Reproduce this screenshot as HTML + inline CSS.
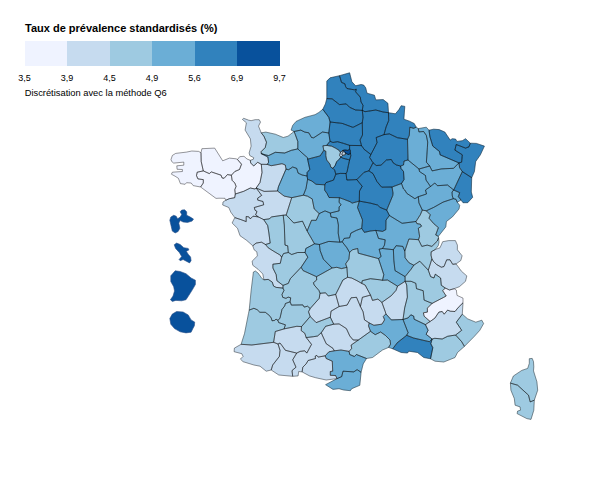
<!DOCTYPE html>
<html><head><meta charset="utf-8">
<style>
html,body{margin:0;padding:0;background:#fff;}
body{width:600px;height:484px;position:relative;overflow:hidden;font-family:"Liberation Sans",sans-serif;color:#000;}
#title{position:absolute;left:25px;top:21.4px;font-size:11px;font-weight:bold;white-space:nowrap;line-height:14px;}
#bar{position:absolute;left:24.5px;top:41px;height:25px;width:255px;display:flex;}
#bar div{flex:1;}
.lb{position:absolute;top:73.1px;font-size:9px;line-height:11px;width:30px;text-align:center;white-space:nowrap;}
#note{position:absolute;left:24.7px;top:86.7px;font-size:9.33px;line-height:12px;white-space:nowrap;}
svg{position:absolute;left:0;top:0;}
svg path{stroke-linejoin:round;}
svg path.bd{fill:none;stroke:rgba(0,0,0,0.47);stroke-width:0.85;}
</style></head><body>
<div id="title">Taux de prévalence standardisés (%)</div>
<div id="bar"><div style="background:#eff3ff"></div><div style="background:#c6dbef"></div><div style="background:#9ecae1"></div><div style="background:#6baed6"></div><div style="background:#3182bd"></div><div style="background:#08519c"></div></div>
<div class="lb" style="left:9.5px">3,5</div>
<div class="lb" style="left:52px">3,9</div>
<div class="lb" style="left:94.5px">4,5</div>
<div class="lb" style="left:137px">4,9</div>
<div class="lb" style="left:179.5px">5,6</div>
<div class="lb" style="left:222px">6,9</div>
<div class="lb" style="left:264.5px">9,7</div>
<div id="note">Discrétisation avec la méthode Q6</div>
<svg width="600" height="484" viewBox="0 0 600 484">
<path d="M171.0 159.5 L172.4 155.4 L175.7 153.4 L186.5 152.1 L191.8 151.0 L198.6 151.4 L201.0 152.8 L201.2 161.5 L203.3 170.9 L197.2 172.2 L196.5 175.6 L197.9 178.9 L203.3 179.6 L203.3 183.0 L200.6 187.0 L193.2 185.6 L191.2 183.0 L186.5 182.7 L185.1 184.3 L180.4 183.6 L178.4 178.3 L175.1 176.2 L171.4 174.2 L172.4 172.2 L182.4 171.5 L182.4 169.5 L177.1 169.3 L176.8 165.8 L183.8 165.2 L183.8 162.1 L173.7 163.1 L171.7 161.5Z" fill="#eff3ff" stroke="#eff3ff" stroke-width="0.3"/>
<path d="M201.0 152.8 L201.9 148.7 L214.7 148.1 L222.7 160.8 L229.4 158.1 L236.1 158.8 L237.5 159.5 L241.5 164.2 L239.5 169.5 L234.8 171.5 L231.4 175.2 L227.4 174.6 L224.1 178.3 L222.0 177.9 L221.1 175.2 L211.3 171.9 L209.3 173.6 L203.3 170.9 L201.2 161.5Z" fill="#eff3ff" stroke="#eff3ff" stroke-width="0.3"/>
<path d="M203.3 170.9 L209.3 173.6 L211.3 171.9 L221.1 175.2 L222.0 177.9 L224.1 178.3 L227.4 174.6 L231.4 175.2 L232.1 180.3 L234.8 183.0 L236.1 186.3 L234.8 189.7 L235.3 194.0 L234.7 197.7 L229.3 198.7 L225.7 200.3 L225.0 198.3 L219.0 198.2 L216.0 198.4 L200.6 187.0 L203.3 183.0 L203.3 179.6 L197.9 178.9 L196.5 175.6 L197.2 172.2Z" fill="#eff3ff" stroke="#eff3ff" stroke-width="0.3"/>
<path d="M237.5 159.5 L239.7 156.7 L244.0 156.3 L247.0 159.0 L250.3 160.3 L250.7 163.0 L253.7 166.0 L257.7 162.3 L261.3 164.3 L262.0 172.5 L260.0 182.5 L256.2 188.0 L255.0 189.0 L250.3 188.0 L243.7 191.3 L235.3 194.0 L234.8 189.7 L236.1 186.3 L234.8 183.0 L232.1 180.3 L231.4 175.2 L234.8 171.5 L239.5 169.5 L241.5 164.2Z" fill="#eff3ff" stroke="#eff3ff" stroke-width="0.3"/>
<path d="M242.4 119.4 L243.7 118.3 L248.4 120.1 L251.1 120.7 L255.1 119.7 L259.2 119.7 L260.5 122.1 L258.5 126.1 L261.2 132.8 L263.9 136.2 L266.5 142.2 L265.2 147.6 L261.2 151.6 L261.2 153.6 L267.9 157.0 L268.6 162.3 L267.2 164.4 L261.3 164.3 L257.7 162.3 L253.7 166.0 L250.7 163.0 L250.3 160.3 L253.3 159.3 L253.7 157.7 L249.8 155.6 L249.1 153.0 L251.1 146.2 L250.4 138.9 L245.1 130.1 L246.4 122.8Z" fill="#c6dbef" stroke="#c6dbef" stroke-width="0.3"/>
<path d="M261.2 132.8 L265.9 132.1 L275.3 134.2 L283.3 137.5 L288.0 136.2 L294.1 131.5 L295.4 134.8 L297.8 141.5 L297.8 148.9 L291.4 150.3 L284.7 153.0 L275.3 152.3 L268.6 155.6 L265.9 155.0 L261.2 153.6 L261.2 151.6 L265.2 147.6 L266.5 142.2 L263.9 136.2Z" fill="#9ecae1" stroke="#9ecae1" stroke-width="0.3"/>
<path d="M261.2 153.6 L265.9 155.0 L268.6 155.6 L275.3 152.3 L284.7 153.0 L291.4 150.3 L297.8 148.9 L302.1 153.0 L307.5 157.7 L307.6 159.2 L309.8 169.3 L307.1 172.6 L307.1 176.0 L302.1 175.0 L298.1 173.1 L296.7 168.4 L292.7 167.0 L288.7 169.7 L286.0 169.1 L285.3 165.0 L282.0 163.7 L275.3 165.0 L271.2 165.7 L267.2 164.4 L268.6 162.3 L267.9 157.0Z" fill="#6baed6" stroke="#6baed6" stroke-width="0.3"/>
<path d="M261.3 164.3 L267.2 164.4 L271.2 165.7 L275.3 165.0 L282.0 163.7 L285.3 165.0 L286.0 169.1 L278.4 186.8 L277.5 191.0 L264.1 191.4 L256.2 188.0 L260.0 182.5 L262.0 172.5Z" fill="#c6dbef" stroke="#c6dbef" stroke-width="0.3"/>
<path d="M286.0 169.1 L288.7 169.7 L292.7 167.0 L296.7 168.4 L298.1 173.1 L302.1 175.0 L307.1 176.0 L307.6 179.3 L306.0 188.5 L303.4 195.2 L291.7 197.7 L284.2 196.1 L277.5 191.0 L278.4 186.8Z" fill="#6baed6" stroke="#6baed6" stroke-width="0.3"/>
<path d="M307.6 159.2 L320.2 155.9 L323.8 150.4 L325.8 151.2 L325.8 155.8 L326.7 160.0 L330.0 164.2 L330.8 167.1 L332.9 168.3 L334.6 170.0 L335.8 174.2 L333.5 180.1 L326.0 182.6 L324.8 184.8 L316.0 184.3 L311.8 181.0 L307.6 179.3 L307.1 176.0 L307.1 172.6 L309.8 169.3Z" fill="#3182bd" stroke="#3182bd" stroke-width="0.3"/>
<path d="M294.1 131.5 L300.8 130.1 L304.8 132.1 L308.8 132.8 L311.5 137.5 L313.7 137.8 L322.5 132.0 L328.8 133.0 L330.0 141.2 L326.7 145.4 L322.9 145.8 L323.8 150.4 L320.2 155.9 L307.6 159.2 L307.5 157.7 L302.1 153.0 L297.8 148.9 L297.8 141.5 L295.4 134.8Z" fill="#6baed6" stroke="#6baed6" stroke-width="0.3"/>
<path d="M322.8 109.3 L328.8 117.3 L330.1 122.0 L328.8 133.0 L322.5 132.0 L313.7 137.8 L311.5 137.5 L308.8 132.8 L304.8 132.1 L300.8 130.1 L294.1 131.5 L291.1 130.1 L292.7 125.4 L296.1 121.4 L304.8 117.4 L315.0 114.7 L318.8 112.5Z" fill="#6baed6" stroke="#6baed6" stroke-width="0.3"/>
<path d="M326.8 98.6 L326.8 81.1 L330.1 77.8 L339.5 75.7 L341.5 82.4 L344.9 83.8 L345.6 86.5 L346.9 88.5 L354.3 89.8 L356.3 89.2 L355.6 91.8 L360.3 97.2 L361.0 101.9 L363.0 105.3 L362.3 110.4 L355.6 110.0 L349.6 107.3 L346.2 103.9 L339.5 104.6 L332.1 98.8Z" fill="#3182bd" stroke="#3182bd" stroke-width="0.3"/>
<path d="M339.5 75.7 L349.6 72.8 L351.9 81.8 L355.6 85.8 L361.0 84.5 L363.7 85.1 L365.7 87.8 L367.0 93.2 L374.4 95.2 L375.8 99.9 L383.2 99.6 L387.9 103.3 L388.5 112.7 L383.2 112.0 L375.8 110.0 L365.0 111.7 L362.3 110.4 L363.0 105.3 L361.0 101.9 L360.3 97.2 L355.6 91.8 L356.3 89.2 L354.3 89.8 L346.9 88.5 L345.6 86.5 L344.9 83.8 L341.5 82.4Z" fill="#3182bd" stroke="#3182bd" stroke-width="0.3"/>
<path d="M326.8 98.6 L332.1 98.8 L339.5 104.6 L346.2 103.9 L349.6 107.3 L355.6 110.0 L362.3 110.4 L363.0 117.3 L362.3 122.7 L353.0 127.4 L342.2 123.4 L330.1 122.0 L328.8 117.3 L322.8 109.3 L325.4 103.9Z" fill="#3182bd" stroke="#3182bd" stroke-width="0.3"/>
<path d="M330.1 122.0 L342.2 123.4 L353.0 127.4 L362.3 122.7 L362.5 135.0 L360.0 140.0 L361.5 145.6 L349.6 145.4 L343.3 143.3 L337.5 141.7 L332.9 142.5 L330.0 141.2 L328.8 133.0Z" fill="#3182bd" stroke="#3182bd" stroke-width="0.3"/>
<path d="M362.3 110.4 L365.0 111.7 L375.8 110.0 L383.2 112.0 L388.5 112.7 L388.7 120.5 L386.0 127.2 L384.0 134.6 L376.2 137.5 L377.0 142.7 L374.3 148.0 L370.9 154.5 L364.2 149.4 L361.5 145.6 L360.0 140.0 L362.5 135.0 L362.3 122.7 L363.0 117.3Z" fill="#3182bd" stroke="#3182bd" stroke-width="0.3"/>
<path d="M388.5 112.7 L395.4 113.8 L398.8 109.8 L401.2 105.7 L404.8 106.4 L403.9 119.2 L409.5 121.2 L414.2 123.5 L416.2 127.2 L413.6 128.3 L409.8 127.2 L409.3 135.3 L407.5 139.3 L397.4 137.7 L389.4 133.9 L384.0 134.6 L386.0 127.2 L388.7 120.5Z" fill="#3182bd" stroke="#3182bd" stroke-width="0.3"/>
<path d="M384.0 134.6 L389.4 133.9 L397.4 137.7 L407.5 139.3 L408.0 160.0 L404.0 161.0 L403.5 165.0 L400.5 166.0 L396.5 165.0 L393.1 162.8 L391.3 159.5 L386.4 160.0 L381.0 165.2 L376.3 165.5 L373.0 162.8 L369.6 157.4 L370.9 154.5 L374.3 148.0 L377.0 142.7 L376.2 137.5Z" fill="#3182bd" stroke="#3182bd" stroke-width="0.3"/>
<path d="M330.0 141.2 L332.9 142.5 L337.5 141.7 L343.3 143.3 L349.6 145.4 L349.6 149.2 L347.9 150.4 L345.0 150.0 L342.9 150.4 L340.4 152.5 L339.2 150.4 L335.8 148.3 L331.7 146.2 L326.7 145.4Z" fill="#3182bd" stroke="#3182bd" stroke-width="0.3"/>
<path d="M322.9 145.8 L326.7 145.4 L331.7 146.2 L335.8 148.3 L339.2 150.4 L340.4 152.5 L339.6 155.4 L340.8 157.1 L339.2 159.2 L336.7 161.7 L335.0 165.8 L332.9 168.3 L330.8 167.1 L330.0 164.2 L326.7 160.0 L325.8 155.8 L325.8 151.2 L323.8 150.4Z" fill="#9ecae1" stroke="#9ecae1" stroke-width="0.3"/>
<path d="M339.2 159.2 L340.8 157.1 L343.3 158.3 L348.3 159.6 L349.6 160.0 L348.3 165.8 L347.1 171.7 L346.1 173.5 L340.2 173.4 L335.8 174.2 L334.6 170.0 L332.9 168.3 L335.0 165.8 L336.7 161.7Z" fill="#3182bd" stroke="#3182bd" stroke-width="0.3"/>
<path d="M342.5 155.4 L342.5 155.4 L345.4 154.6 L345.4 152.9 L347.5 154.2 L349.2 154.6 L350.4 152.9 L350.8 155.8 L349.6 160.0 L348.3 159.6 L343.3 158.3 L340.8 157.1Z" fill="#3182bd" stroke="#3182bd" stroke-width="0.3"/>
<path d="M340.4 152.5 L342.9 150.4 L342.9 150.4 L342.9 152.9 L341.7 153.8 L342.5 155.4 L340.8 157.1 L339.6 155.4Z" fill="#c6dbef" stroke="#c6dbef" stroke-width="0.3"/>
<path d="M342.9 152.9 L342.9 150.4 L345.4 152.9 L345.4 154.6 L342.5 155.4 L342.5 155.4 L341.7 153.8Z" fill="#c6dbef" stroke="#c6dbef" stroke-width="0.3"/>
<path d="M342.9 150.4 L345.0 150.0 L347.9 150.4 L349.6 149.2 L350.4 150.4 L350.4 152.9 L349.2 154.6 L347.5 154.2 L345.4 152.9 L342.9 150.4Z" fill="#08519c" stroke="#08519c" stroke-width="0.3"/>
<path d="M349.6 145.4 L361.5 145.6 L364.2 149.4 L370.9 154.5 L369.6 157.4 L373.0 162.8 L368.9 170.9 L364.2 172.2 L356.8 179.6 L346.8 180.0 L346.1 173.5 L347.1 171.7 L348.3 165.8 L349.6 160.0 L350.8 155.8 L350.4 152.9 L350.4 150.4 L349.6 149.2Z" fill="#3182bd" stroke="#3182bd" stroke-width="0.3"/>
<path d="M324.8 184.8 L326.0 182.6 L333.5 180.1 L335.8 174.2 L340.2 173.4 L346.1 173.5 L346.8 180.0 L356.8 179.6 L362.2 186.3 L359.5 191.0 L359.3 201.1 L352.1 203.1 L350.1 201.7 L343.4 199.1 L339.4 197.7 L329.0 197.5 L327.0 193.5 L324.6 190.1Z" fill="#3182bd" stroke="#3182bd" stroke-width="0.3"/>
<path d="M307.6 179.3 L311.8 181.0 L316.0 184.3 L324.8 184.8 L324.6 190.1 L327.0 193.5 L329.0 197.5 L339.4 197.7 L339.1 202.2 L341.1 204.9 L339.1 206.9 L339.1 210.9 L330.3 213.0 L325.0 210.9 L319.2 213.6 L314.2 208.9 L312.2 198.9 L307.5 196.2 L303.4 195.2 L306.0 188.5Z" fill="#6baed6" stroke="#6baed6" stroke-width="0.3"/>
<path d="M413.6 128.3 L416.2 127.2 L418.3 128.6 L418.9 131.9 L423.6 131.5 L426.3 135.3 L427.7 142.0 L427.4 147.4 L426.4 162.2 L429.7 166.0 L419.0 169.0 L408.0 160.0 L407.5 139.3 L409.3 135.3 L409.8 127.2Z" fill="#6baed6" stroke="#6baed6" stroke-width="0.3"/>
<path d="M418.3 128.6 L426.3 127.2 L429.0 130.2 L429.9 136.6 L432.8 146.1 L439.5 151.5 L440.1 154.8 L458.9 162.9 L453.6 168.3 L441.5 168.9 L432.1 170.9 L429.7 166.0 L426.4 162.2 L427.4 147.4 L427.7 142.0 L426.3 135.3 L423.6 131.5 L418.9 131.9Z" fill="#6baed6" stroke="#6baed6" stroke-width="0.3"/>
<path d="M429.0 130.2 L433.7 129.2 L439.1 129.6 L444.8 132.0 L450.2 140.1 L452.2 138.7 L455.6 139.1 L456.9 141.4 L462.3 140.7 L465.6 138.7 L470.3 143.2 L469.0 146.8 L465.6 148.1 L456.2 144.5 L454.9 150.1 L462.3 154.8 L461.6 162.2 L458.9 162.9 L440.1 154.8 L439.5 151.5 L432.8 146.1 L429.9 136.6Z" fill="#3182bd" stroke="#3182bd" stroke-width="0.3"/>
<path d="M470.3 143.2 L476.4 143.4 L484.4 146.1 L480.4 154.8 L475.7 161.5 L474.4 171.6 L471.7 177.7 L462.3 171.6 L459.6 167.6 L458.9 162.9 L461.6 162.2 L462.3 154.8 L454.9 150.1 L456.2 144.5 L465.6 148.1 L469.0 146.8Z" fill="#3182bd" stroke="#3182bd" stroke-width="0.3"/>
<path d="M462.3 171.6 L471.7 177.7 L471.3 192.0 L472.7 197.3 L467.7 202.7 L463.0 202.7 L461.0 200.0 L458.3 196.7 L459.7 192.7 L453.7 190.0Z" fill="#3182bd" stroke="#3182bd" stroke-width="0.3"/>
<path d="M419.0 169.0 L429.7 166.0 L432.1 170.9 L441.5 168.9 L453.6 168.3 L458.9 162.9 L459.6 167.6 L462.3 171.6 L453.7 190.0 L447.5 185.0 L437.4 185.7 L434.8 183.0 L430.5 186.5 L426.0 180.0 L425.5 175.5 L419.5 171.5Z" fill="#6baed6" stroke="#6baed6" stroke-width="0.3"/>
<path d="M453.7 190.0 L452.0 192.0 L452.3 196.0 L453.3 198.7 L456.0 199.3 L457.3 202.3 L461.0 200.0 L458.3 196.7 L459.7 192.7Z" fill="#6baed6" stroke="#6baed6" stroke-width="0.3"/>
<path d="M408.0 160.0 L404.0 161.0 L403.5 165.0 L400.5 166.0 L401.0 168.5 L403.5 171.5 L404.0 179.5 L401.5 183.5 L403.5 189.0 L404.8 190.0 L406.8 193.4 L414.9 198.7 L418.3 196.7 L426.5 194.0 L425.5 190.0 L430.5 186.5 L426.0 180.0 L425.5 175.5 L419.5 171.5 L419.0 169.0Z" fill="#6baed6" stroke="#6baed6" stroke-width="0.3"/>
<path d="M430.5 186.5 L434.8 183.0 L437.4 185.7 L447.5 185.0 L453.7 190.0 L452.0 192.0 L452.3 196.0 L453.3 198.7 L443.1 202.1 L433.7 207.4 L426.3 210.8 L422.3 210.1 L418.9 202.8 L418.3 196.7 L426.5 194.0 L425.5 190.0Z" fill="#6baed6" stroke="#6baed6" stroke-width="0.3"/>
<path d="M426.3 210.8 L433.7 207.4 L443.1 202.1 L453.3 198.7 L456.0 199.3 L457.3 202.3 L459.7 205.3 L459.0 209.0 L452.5 216.8 L446.4 221.5 L445.8 226.9 L438.4 236.3 L435.7 235.0 L438.4 227.6 L433.7 223.6 L429.0 218.2 L430.3 214.8Z" fill="#6baed6" stroke="#6baed6" stroke-width="0.3"/>
<path d="M368.9 170.9 L373.0 162.8 L376.3 165.5 L381.0 165.2 L386.4 160.0 L391.3 159.5 L393.1 162.8 L396.5 165.0 L400.5 166.0 L401.0 168.5 L403.5 171.5 L404.0 179.5 L401.5 183.5 L392.0 187.0 L381.7 187.2 L377.0 181.6 L373.0 173.6Z" fill="#3182bd" stroke="#3182bd" stroke-width="0.3"/>
<path d="M356.8 179.6 L364.2 172.2 L368.9 170.9 L373.0 173.6 L377.0 181.6 L381.7 187.2 L392.0 187.0 L393.0 193.0 L392.8 195.4 L386.7 210.1 L380.0 207.4 L377.5 205.0 L370.3 203.1 L359.3 201.1 L359.5 191.0 L362.2 186.3Z" fill="#3182bd" stroke="#3182bd" stroke-width="0.3"/>
<path d="M392.0 187.0 L401.5 183.5 L403.5 189.0 L404.8 190.0 L406.8 193.4 L414.9 198.7 L418.3 196.7 L418.9 202.8 L422.3 210.1 L420.3 214.8 L416.0 221.5 L402.1 223.3 L389.4 215.5 L386.7 210.1 L392.8 195.4 L393.0 193.0Z" fill="#6baed6" stroke="#6baed6" stroke-width="0.3"/>
<path d="M359.3 201.1 L370.3 203.1 L377.5 205.0 L380.0 207.4 L386.7 210.1 L389.4 215.5 L386.0 220.2 L385.8 229.7 L382.5 231.4 L375.8 230.4 L370.4 231.0 L364.4 232.4 L361.7 228.4 L362.5 220.0 L357.5 207.5Z" fill="#3182bd" stroke="#3182bd" stroke-width="0.3"/>
<path d="M339.4 197.7 L343.4 199.1 L350.1 201.7 L352.1 203.1 L359.3 201.1 L357.5 207.5 L362.5 220.0 L361.7 228.4 L356.3 230.4 L350.9 233.1 L349.6 237.8 L344.2 238.4 L342.2 241.8 L339.8 242.2 L338.2 233.1 L338.4 225.0 L337.0 218.0 L331.0 217.0 L330.3 213.0 L339.1 210.9 L339.1 206.9 L341.1 204.9 L339.1 202.2Z" fill="#6baed6" stroke="#6baed6" stroke-width="0.3"/>
<path d="M319.2 213.6 L325.0 210.9 L330.3 213.0 L331.0 217.0 L337.0 218.0 L338.4 225.0 L338.2 233.1 L339.8 242.2 L328.8 241.4 L319.4 244.5 L314.5 243.8 L307.1 231.0 L311.5 220.3 L316.2 220.3Z" fill="#6baed6" stroke="#6baed6" stroke-width="0.3"/>
<path d="M291.7 197.7 L303.4 195.2 L307.5 196.2 L312.2 198.9 L314.2 208.9 L319.2 213.6 L316.2 220.3 L311.5 220.3 L307.1 231.0 L302.5 221.2 L293.8 223.0 L286.2 215.0Z" fill="#9ecae1" stroke="#9ecae1" stroke-width="0.3"/>
<path d="M256.2 188.0 L264.1 191.4 L277.5 191.0 L284.2 196.1 L291.7 197.7 L286.2 215.0 L283.2 215.2 L271.7 216.9 L269.1 218.9 L263.7 219.6 L258.3 216.9 L255.6 214.9 L257.0 211.5 L255.0 210.2 L254.3 207.5 L263.7 204.8 L263.0 201.5 L257.7 200.1 L257.7 198.1 L261.7 195.4Z" fill="#c6dbef" stroke="#c6dbef" stroke-width="0.3"/>
<path d="M225.7 200.3 L229.3 198.7 L234.7 197.7 L235.3 194.0 L243.7 191.3 L250.3 188.0 L255.0 189.0 L256.2 188.0 L261.7 195.4 L257.7 198.1 L257.7 200.1 L263.0 201.5 L263.7 204.8 L254.3 207.5 L255.0 210.2 L257.0 211.5 L255.6 214.9 L258.3 216.9 L253.0 216.2 L250.3 218.9 L248.9 216.9 L246.2 216.5 L246.2 221.6 L240.9 219.6 L234.8 217.6 L230.8 212.2 L228.8 207.5 L222.7 205.0 L223.0 202.0Z" fill="#c6dbef" stroke="#c6dbef" stroke-width="0.3"/>
<path d="M234.8 217.6 L240.9 219.6 L246.2 221.6 L246.2 216.5 L248.9 216.9 L250.3 218.9 L253.0 216.2 L258.3 216.9 L263.7 219.6 L267.7 225.6 L268.9 233.1 L270.2 243.1 L265.5 244.5 L261.5 242.2 L256.1 243.1 L252.8 245.8 L246.7 240.4 L240.0 235.7 L237.5 228.3 L232.1 223.0Z" fill="#c6dbef" stroke="#c6dbef" stroke-width="0.3"/>
<path d="M263.7 219.6 L269.1 218.9 L271.7 216.9 L283.2 215.2 L284.3 225.0 L285.0 245.1 L287.7 245.8 L288.3 252.5 L283.6 253.5 L281.6 257.2 L280.3 255.2 L273.6 251.2 L268.2 247.8 L265.5 244.5 L270.2 243.1 L268.9 233.1 L267.7 225.6Z" fill="#9ecae1" stroke="#9ecae1" stroke-width="0.3"/>
<path d="M283.2 215.2 L286.2 215.0 L293.8 223.0 L302.5 221.2 L307.1 231.0 L314.5 243.8 L305.8 248.5 L305.1 252.5 L297.7 252.5 L291.7 254.5 L288.3 252.5 L287.7 245.8 L285.0 245.1 L284.3 225.0Z" fill="#9ecae1" stroke="#9ecae1" stroke-width="0.3"/>
<path d="M252.8 245.8 L256.1 243.1 L261.5 242.2 L265.5 244.5 L268.2 247.8 L273.6 251.2 L280.3 255.2 L281.6 257.2 L280.3 263.3 L272.9 264.2 L272.9 268.0 L276.2 274.7 L276.9 280.7 L283.0 285.4 L283.0 288.1 L276.2 287.4 L273.6 286.1 L272.2 282.0 L268.2 279.4 L263.9 279.8 L262.8 274.0 L258.1 269.3 L252.8 265.3 L252.1 261.2 L257.4 255.9 L256.8 251.8 L254.1 249.8Z" fill="#c6dbef" stroke="#c6dbef" stroke-width="0.3"/>
<path d="M281.6 257.2 L283.6 253.5 L288.3 252.5 L291.7 254.5 L297.7 252.5 L305.1 252.5 L307.8 257.2 L301.1 267.3 L290.3 278.7 L288.3 283.4 L283.0 285.4 L276.9 280.7 L276.2 274.7 L272.9 268.0 L272.9 264.2 L280.3 263.3Z" fill="#9ecae1" stroke="#9ecae1" stroke-width="0.3"/>
<path d="M305.1 252.5 L305.8 248.5 L314.5 243.8 L319.4 244.5 L320.1 250.5 L323.4 259.2 L332.1 268.0 L316.5 276.7 L303.1 270.6 L301.1 267.3 L307.8 257.2Z" fill="#6baed6" stroke="#6baed6" stroke-width="0.3"/>
<path d="M319.4 244.5 L328.8 241.4 L339.8 242.2 L342.2 241.8 L346.9 247.8 L349.6 252.5 L348.9 259.2 L345.6 263.9 L346.9 267.3 L341.5 268.6 L336.8 267.3 L332.1 268.0 L323.4 259.2 L320.1 250.5Z" fill="#6baed6" stroke="#6baed6" stroke-width="0.3"/>
<path d="M342.2 241.8 L344.2 238.4 L349.6 237.8 L350.9 233.1 L356.3 230.4 L361.7 228.4 L364.4 232.4 L370.4 231.0 L375.8 230.4 L378.5 238.4 L385.2 239.8 L384.5 245.1 L382.5 248.5 L379.1 249.2 L381.1 256.5 L378.5 258.6 L358.3 253.2 L357.7 248.5 L352.3 249.8 L349.6 252.5 L346.9 247.8Z" fill="#6baed6" stroke="#6baed6" stroke-width="0.3"/>
<path d="M349.6 252.5 L352.3 249.8 L357.7 248.5 L358.3 253.2 L378.5 258.6 L383.8 274.7 L382.5 280.3 L379.8 279.8 L370.4 278.7 L362.3 280.7 L361.7 283.4 L357.0 280.7 L351.6 278.0 L347.6 277.3 L346.9 267.3 L345.6 263.9 L348.9 259.2Z" fill="#9ecae1" stroke="#9ecae1" stroke-width="0.3"/>
<path d="M382.5 248.5 L393.4 249.7 L393.8 260.0 L395.0 270.6 L405.1 276.6 L405.1 281.3 L397.5 286.2 L387.5 280.0 L382.5 280.3 L383.8 274.7 L378.5 258.6 L381.1 256.5 L379.1 249.2Z" fill="#6baed6" stroke="#6baed6" stroke-width="0.3"/>
<path d="M393.4 249.7 L396.1 245.7 L402.8 246.4 L404.8 251.1 L405.1 257.8 L409.1 262.9 L413.8 265.2 L411.1 269.2 L405.1 276.6 L395.0 270.6 L393.8 260.0Z" fill="#6baed6" stroke="#6baed6" stroke-width="0.3"/>
<path d="M389.4 215.5 L402.1 223.3 L416.0 221.5 L416.9 223.6 L420.3 224.2 L421.6 226.2 L418.3 228.3 L419.6 236.3 L418.5 239.7 L408.9 239.0 L404.8 251.1 L402.8 246.4 L396.1 245.7 L393.4 249.7 L382.5 248.5 L384.5 245.1 L385.2 239.8 L378.5 238.4 L375.8 230.4 L382.5 231.4 L385.8 229.7 L386.0 220.2Z" fill="#6baed6" stroke="#6baed6" stroke-width="0.3"/>
<path d="M422.3 210.1 L426.3 210.8 L430.3 214.8 L429.0 218.2 L433.7 223.6 L438.4 227.6 L435.7 235.0 L438.4 236.3 L438.6 237.7 L437.3 241.0 L431.9 246.4 L427.2 245.1 L421.8 246.4 L418.5 239.7 L419.6 236.3 L418.3 228.3 L421.6 226.2 L420.3 224.2 L416.9 223.6 L416.0 221.5 L420.3 214.8Z" fill="#9ecae1" stroke="#9ecae1" stroke-width="0.3"/>
<path d="M404.8 251.1 L408.9 239.0 L418.5 239.7 L421.8 246.4 L427.2 245.1 L431.9 246.4 L437.3 241.0 L438.6 237.7 L439.0 242.4 L438.2 245.7 L435.3 249.5 L431.2 251.8 L431.0 255.1 L431.9 258.9 L428.3 270.2 L419.8 261.2 L413.8 265.2 L409.1 262.9 L405.1 257.8Z" fill="#9ecae1" stroke="#9ecae1" stroke-width="0.3"/>
<path d="M435.3 249.5 L440.0 247.8 L442.7 241.7 L448.7 240.6 L455.4 240.6 L457.4 245.1 L457.4 249.8 L462.1 255.8 L460.8 260.5 L456.1 263.9 L452.7 264.3 L450.0 259.8 L446.7 259.8 L444.0 266.5 L441.3 267.2 L436.6 264.5 L433.3 261.2 L431.9 258.9 L431.0 255.1 L431.2 251.8Z" fill="#c6dbef" stroke="#c6dbef" stroke-width="0.3"/>
<path d="M431.9 258.9 L433.3 261.2 L436.6 264.5 L441.3 267.2 L444.0 266.5 L446.7 259.8 L450.0 259.8 L452.7 264.3 L456.1 263.9 L461.4 271.2 L466.8 275.9 L465.5 281.3 L459.4 286.7 L454.1 288.7 L449.4 290.0 L445.3 288.0 L441.3 285.3 L440.6 278.0 L435.3 274.2 L433.9 278.0 L430.6 276.6 L428.3 270.2Z" fill="#c6dbef" stroke="#c6dbef" stroke-width="0.3"/>
<path d="M413.8 265.2 L419.8 261.2 L428.3 270.2 L430.6 276.6 L433.9 278.0 L435.3 274.2 L440.6 278.0 L441.3 285.3 L445.3 288.0 L442.7 290.7 L446.2 296.0 L443.6 297.4 L432.1 303.4 L424.1 300.1 L423.2 290.7 L416.5 288.7 L415.8 283.3 L411.1 281.3 L405.1 281.3 L405.1 276.6 L411.1 269.2Z" fill="#9ecae1" stroke="#9ecae1" stroke-width="0.3"/>
<path d="M361.7 283.4 L362.3 280.7 L370.4 278.7 L379.8 279.8 L382.5 280.3 L387.5 280.0 L397.5 286.2 L396.0 290.4 L391.3 295.7 L381.9 302.4 L377.9 299.1 L372.5 300.4 L370.5 295.1 L365.1 285.0Z" fill="#9ecae1" stroke="#9ecae1" stroke-width="0.3"/>
<path d="M397.5 286.2 L405.1 281.3 L406.7 285.0 L407.4 297.1 L404.7 307.8 L403.0 319.5 L391.3 319.9 L385.9 313.9 L385.3 311.8 L381.9 302.4 L391.3 295.7 L396.0 290.4Z" fill="#c6dbef" stroke="#c6dbef" stroke-width="0.3"/>
<path d="M406.7 285.0 L405.1 281.3 L411.1 281.3 L415.8 283.3 L416.5 288.7 L423.2 290.7 L424.1 300.1 L432.1 303.4 L427.4 308.1 L427.4 312.1 L423.4 312.8 L424.1 316.2 L430.1 321.5 L425.4 324.6 L414.1 319.2 L413.7 316.1 L410.8 314.8 L408.1 317.9 L403.0 319.5 L404.7 307.8 L407.4 297.1Z" fill="#9ecae1" stroke="#9ecae1" stroke-width="0.3"/>
<path d="M445.3 288.0 L449.4 290.0 L454.1 288.7 L456.3 290.0 L457.0 295.4 L463.0 298.1 L463.0 302.8 L458.3 307.4 L455.0 311.5 L450.3 311.2 L447.6 310.1 L444.2 314.2 L442.2 311.5 L438.9 312.1 L434.8 318.2 L430.1 321.5 L424.1 316.2 L423.4 312.8 L427.4 312.1 L427.4 308.1 L432.1 303.4 L443.6 297.4 L446.2 296.0 L442.7 290.7Z" fill="#eff3ff" stroke="#eff3ff" stroke-width="0.3"/>
<path d="M463.0 302.8 L462.3 314.2 L456.3 322.2 L461.7 330.3 L455.6 335.0 L447.6 336.3 L442.2 339.0 L434.8 338.3 L432.1 339.0 L426.1 334.3 L428.1 330.3 L425.4 324.6 L430.1 321.5 L434.8 318.2 L438.9 312.1 L442.2 311.5 L444.2 314.2 L447.6 310.1 L450.3 311.2 L455.0 311.5 L458.3 307.4Z" fill="#c6dbef" stroke="#c6dbef" stroke-width="0.3"/>
<path d="M462.3 314.2 L467.7 318.9 L475.8 322.2 L481.8 320.2 L483.6 323.6 L479.8 330.3 L474.4 336.3 L464.4 346.4 L461.7 341.7 L455.6 335.0 L461.7 330.3 L456.3 322.2Z" fill="#9ecae1" stroke="#9ecae1" stroke-width="0.3"/>
<path d="M432.1 339.0 L434.8 338.3 L442.2 339.0 L447.6 336.3 L455.6 335.0 L461.7 341.7 L464.4 346.4 L457.5 352.5 L455.0 357.5 L443.8 362.0 L435.0 361.2 L430.5 358.8 L432.8 347.7 L430.8 343.7Z" fill="#9ecae1" stroke="#9ecae1" stroke-width="0.3"/>
<path d="M406.7 335.3 L413.5 338.0 L425.0 340.7 L429.5 341.7 L432.1 339.0 L430.8 343.7 L432.8 347.7 L430.5 358.8 L423.8 357.5 L417.5 352.5 L408.8 351.2 L407.5 353.0 L401.2 352.5 L392.7 348.8 L397.3 342.7Z" fill="#3182bd" stroke="#3182bd" stroke-width="0.3"/>
<path d="M403.0 319.5 L408.1 317.9 L410.8 314.8 L413.7 316.1 L414.1 319.2 L425.4 324.6 L428.1 330.3 L426.1 334.3 L432.1 339.0 L429.5 341.7 L425.0 340.7 L413.5 338.0 L406.7 335.3 L408.1 332.7Z" fill="#6baed6" stroke="#6baed6" stroke-width="0.3"/>
<path d="M385.9 313.9 L391.3 319.9 L403.0 319.5 L408.1 332.7 L406.7 335.3 L397.3 342.7 L392.7 348.8 L390.6 348.1 L388.6 347.4 L390.6 344.1 L390.0 340.0 L385.3 335.3 L380.6 332.0 L375.2 334.7 L370.5 331.3 L368.5 325.9 L369.2 322.9 L373.9 325.3 L381.9 324.2 L384.6 319.9 L383.3 316.5Z" fill="#6baed6" stroke="#6baed6" stroke-width="0.3"/>
<path d="M370.5 295.1 L372.5 300.4 L377.9 299.1 L381.9 302.4 L385.3 311.8 L385.9 313.9 L383.3 316.5 L384.6 319.9 L381.9 324.2 L373.9 325.3 L369.2 322.9 L364.5 319.9 L363.1 311.8 L360.4 306.5 L362.4 297.3Z" fill="#c6dbef" stroke="#c6dbef" stroke-width="0.3"/>
<path d="M335.7 294.4 L339.1 287.7 L342.9 280.0 L347.6 277.3 L351.6 278.0 L357.0 280.7 L361.7 283.4 L365.1 285.0 L370.5 295.1 L362.4 297.3 L360.4 306.5 L356.5 297.3 L351.1 297.8 L347.1 305.1 L339.1 306.5Z" fill="#c6dbef" stroke="#c6dbef" stroke-width="0.3"/>
<path d="M339.1 306.5 L347.1 305.1 L351.1 297.8 L356.5 297.3 L360.4 306.5 L363.1 311.8 L364.5 319.9 L369.2 322.9 L368.5 325.9 L370.5 331.3 L358.4 340.0 L353.2 340.0 L349.8 336.0 L346.4 328.6 L339.1 323.9 L333.7 324.2 L330.3 317.2 L331.0 311.2Z" fill="#c6dbef" stroke="#c6dbef" stroke-width="0.3"/>
<path d="M370.5 331.3 L375.2 334.7 L380.6 332.0 L385.3 335.3 L390.0 340.0 L390.6 344.1 L388.6 347.4 L382.5 350.0 L372.5 357.5 L366.5 358.5 L356.4 354.5 L354.4 356.5 L349.7 354.5 L349.1 351.4 L351.7 348.4 L351.1 345.1 L358.4 340.0Z" fill="#9ecae1" stroke="#9ecae1" stroke-width="0.3"/>
<path d="M334.3 350.8 L341.0 350.0 L349.1 351.4 L349.7 354.5 L354.4 356.5 L356.4 354.5 L366.5 358.5 L363.2 363.9 L361.1 372.3 L357.1 369.6 L353.8 371.9 L343.0 371.2 L341.7 376.6 L337.0 378.6 L335.6 375.5 L330.3 375.3 L330.3 371.5 L332.7 371.2 L332.3 361.2 L326.2 358.5 L325.2 355.8 L328.9 351.8Z" fill="#6baed6" stroke="#6baed6" stroke-width="0.3"/>
<path d="M337.0 378.6 L341.7 376.6 L343.0 371.2 L353.8 371.9 L357.1 369.6 L361.1 372.3 L359.8 385.3 L351.7 388.7 L350.4 390.7 L343.7 390.0 L339.0 388.7 L333.0 389.4 L325.6 384.7Z" fill="#6baed6" stroke="#6baed6" stroke-width="0.3"/>
<path d="M325.2 355.8 L326.2 358.5 L332.3 361.2 L332.7 371.2 L330.3 371.5 L330.3 375.3 L335.6 375.5 L337.0 378.6 L326.2 380.0 L315.5 377.7 L309.5 375.9 L302.1 371.9 L302.8 367.2 L306.1 363.9 L308.1 360.5 L315.5 358.5 L315.2 356.2 L316.8 355.4 L318.2 357.1Z" fill="#c6dbef" stroke="#c6dbef" stroke-width="0.3"/>
<path d="M306.2 337.6 L313.6 336.7 L317.6 336.0 L321.3 332.7 L322.2 335.0 L326.2 343.7 L333.0 348.4 L334.3 350.8 L328.9 351.8 L325.2 355.8 L318.2 357.1 L316.8 355.4 L315.2 356.2 L315.5 358.5 L308.1 360.5 L306.1 363.9 L302.8 367.2 L302.1 371.9 L298.7 371.5 L298.1 375.9 L292.7 376.3 L292.0 370.6 L296.0 367.2 L292.7 359.8 L296.7 353.1 L300.1 351.4 L304.8 350.8 L306.8 353.1 L311.5 344.4 L307.4 339.0Z" fill="#c6dbef" stroke="#c6dbef" stroke-width="0.3"/>
<path d="M321.3 332.7 L325.6 326.3 L333.7 324.2 L339.1 323.9 L346.4 328.6 L349.8 336.0 L353.2 340.0 L358.4 340.0 L351.1 345.1 L351.7 348.4 L349.1 351.4 L341.0 350.0 L334.3 350.8 L333.0 348.4 L326.2 343.7 L322.2 335.0Z" fill="#c6dbef" stroke="#c6dbef" stroke-width="0.3"/>
<path d="M301.5 326.6 L310.2 316.5 L316.2 322.6 L330.3 317.2 L333.7 324.2 L325.6 326.3 L321.3 332.7 L317.6 336.0 L313.6 336.7 L306.2 337.6 L304.8 333.3 L301.2 330.6Z" fill="#9ecae1" stroke="#9ecae1" stroke-width="0.3"/>
<path d="M320.0 293.3 L325.6 292.8 L328.3 296.0 L335.7 294.4 L339.1 306.5 L331.0 311.2 L330.3 317.2 L316.2 322.6 L310.2 316.5 L308.5 311.8 L310.2 308.5 L319.2 298.4Z" fill="#c6dbef" stroke="#c6dbef" stroke-width="0.3"/>
<path d="M290.1 301.8 L291.4 305.1 L302.8 304.9 L304.2 307.1 L307.5 306.2 L310.2 308.5 L308.5 311.8 L310.2 316.5 L301.5 326.6 L296.8 326.3 L284.1 328.9 L285.4 324.8 L278.7 322.6 L278.0 320.4 L280.0 318.1 L282.0 309.4 L284.7 306.0 L285.4 303.5Z" fill="#9ecae1" stroke="#9ecae1" stroke-width="0.3"/>
<path d="M249.2 310.1 L253.9 308.3 L257.2 309.7 L259.9 312.3 L265.3 312.3 L269.3 315.4 L271.3 318.1 L272.0 320.8 L274.7 320.4 L276.0 319.1 L278.0 320.4 L278.7 322.6 L285.4 324.8 L284.1 328.9 L275.3 331.5 L273.6 342.3 L251.8 345.0 L241.1 344.3 L244.5 333.6 L248.5 313.4Z" fill="#9ecae1" stroke="#9ecae1" stroke-width="0.3"/>
<path d="M284.1 328.9 L296.8 326.3 L301.5 326.6 L301.2 330.6 L304.8 333.3 L306.2 337.6 L307.4 339.0 L311.5 344.4 L306.8 353.1 L304.8 350.8 L300.1 351.4 L296.7 353.1 L285.4 350.3 L282.0 345.6 L280.0 343.0 L278.0 344.0 L273.6 342.3 L275.3 331.5Z" fill="#c6dbef" stroke="#c6dbef" stroke-width="0.3"/>
<path d="M241.1 344.3 L251.8 345.0 L273.6 342.3 L278.0 344.0 L280.0 350.3 L279.4 356.4 L272.7 365.0 L271.2 370.0 L266.2 371.2 L260.0 366.2 L253.9 365.0 L243.1 361.7 L240.4 359.1 L243.1 356.4 L241.8 353.7 L234.1 351.7 L234.4 348.1Z" fill="#c6dbef" stroke="#c6dbef" stroke-width="0.3"/>
<path d="M278.0 344.0 L280.0 343.0 L282.0 345.6 L285.4 350.3 L296.7 353.1 L292.7 359.8 L296.0 367.2 L292.0 370.6 L292.7 376.3 L278.8 375.0 L271.2 370.0 L272.7 365.0 L279.4 356.4 L280.0 350.3Z" fill="#c6dbef" stroke="#c6dbef" stroke-width="0.3"/>
<path d="M253.4 272.0 L255.4 271.0 L258.1 273.1 L262.1 278.7 L263.9 279.8 L268.2 279.4 L272.2 282.0 L273.6 286.1 L276.2 287.4 L283.0 288.1 L284.0 290.4 L282.0 294.4 L282.7 297.3 L286.0 298.4 L288.1 297.1 L290.7 297.8 L290.1 301.8 L285.4 303.5 L284.7 306.0 L282.0 309.4 L280.0 318.1 L278.0 320.4 L276.0 319.1 L274.7 320.4 L272.0 320.8 L271.3 318.1 L269.3 315.4 L265.3 312.3 L259.9 312.3 L257.2 309.7 L253.9 308.3 L249.2 310.1 L251.2 290.0Z" fill="#9ecae1" stroke="#9ecae1" stroke-width="0.3"/>
<path d="M283.0 288.1 L283.0 285.4 L288.3 283.4 L290.3 278.7 L301.1 267.3 L303.1 270.6 L316.5 276.7 L316.7 280.0 L313.4 282.7 L314.2 285.0 L318.9 290.4 L320.0 293.3 L319.2 298.4 L310.2 308.5 L307.5 306.2 L304.2 307.1 L302.8 304.9 L291.4 305.1 L290.1 301.8 L290.7 297.8 L288.1 297.1 L286.0 298.4 L282.7 297.3 L282.0 294.4 L284.0 290.4Z" fill="#9ecae1" stroke="#9ecae1" stroke-width="0.3"/>
<path d="M316.5 276.7 L332.1 268.0 L336.8 267.3 L341.5 268.6 L346.9 267.3 L347.6 277.3 L342.9 280.0 L339.1 287.7 L335.7 294.4 L328.3 296.0 L325.6 292.8 L320.0 293.3 L318.9 290.4 L314.2 285.0 L313.4 282.7 L316.7 280.0Z" fill="#9ecae1" stroke="#9ecae1" stroke-width="0.3"/>
<path d="M529.3 358.7 L532.2 358.4 L533.5 361.7 L533.8 366.8 L533.5 370.9 L536.9 381.8 L537.7 390.2 L534.3 400.2 L530.2 401.9 L528.5 395.2 L517.6 385.2 L510.4 383.1 L513.4 376.0 L521.8 370.4 L527.7 368.4 L529.3 363.4Z" fill="#9ecae1" stroke="#9ecae1" stroke-width="0.3"/>
<path d="M510.4 383.1 L517.6 385.2 L528.5 395.2 L530.2 401.9 L534.3 400.2 L533.8 410.2 L531.0 419.4 L526.8 418.6 L517.1 413.6 L517.6 411.1 L520.5 410.2 L520.1 406.9 L515.1 405.2 L514.3 398.5 L510.9 390.2Z" fill="#9ecae1" stroke="#9ecae1" stroke-width="0.3"/>
<path class="bd" d="M171.0 159.5 L172.4 155.4 L175.7 153.4 L186.5 152.1 L191.8 151.0 L198.6 151.4 L201.0 152.8 L201.2 161.5 L203.3 170.9 L197.2 172.2 L196.5 175.6 L197.9 178.9 L203.3 179.6 L203.3 183.0 L200.6 187.0 L193.2 185.6 L191.2 183.0 L186.5 182.7 L185.1 184.3 L180.4 183.6 L178.4 178.3 L175.1 176.2 L171.4 174.2 L172.4 172.2 L182.4 171.5 L182.4 169.5 L177.1 169.3 L176.8 165.8 L183.8 165.2 L183.8 162.1 L173.7 163.1 L171.7 161.5Z M201.0 152.8 L201.9 148.7 L214.7 148.1 L222.7 160.8 L229.4 158.1 L236.1 158.8 L237.5 159.5 L241.5 164.2 L239.5 169.5 L234.8 171.5 L231.4 175.2 L227.4 174.6 L224.1 178.3 L222.0 177.9 L221.1 175.2 L211.3 171.9 L209.3 173.6 L203.3 170.9 L201.2 161.5Z M203.3 170.9 L209.3 173.6 L211.3 171.9 L221.1 175.2 L222.0 177.9 L224.1 178.3 L227.4 174.6 L231.4 175.2 L232.1 180.3 L234.8 183.0 L236.1 186.3 L234.8 189.7 L235.3 194.0 L234.7 197.7 L229.3 198.7 L225.7 200.3 L225.0 198.3 L219.0 198.2 L216.0 198.4 L200.6 187.0 L203.3 183.0 L203.3 179.6 L197.9 178.9 L196.5 175.6 L197.2 172.2Z M237.5 159.5 L239.7 156.7 L244.0 156.3 L247.0 159.0 L250.3 160.3 L250.7 163.0 L253.7 166.0 L257.7 162.3 L261.3 164.3 L262.0 172.5 L260.0 182.5 L256.2 188.0 L255.0 189.0 L250.3 188.0 L243.7 191.3 L235.3 194.0 L234.8 189.7 L236.1 186.3 L234.8 183.0 L232.1 180.3 L231.4 175.2 L234.8 171.5 L239.5 169.5 L241.5 164.2Z M242.4 119.4 L243.7 118.3 L248.4 120.1 L251.1 120.7 L255.1 119.7 L259.2 119.7 L260.5 122.1 L258.5 126.1 L261.2 132.8 L263.9 136.2 L266.5 142.2 L265.2 147.6 L261.2 151.6 L261.2 153.6 L267.9 157.0 L268.6 162.3 L267.2 164.4 L261.3 164.3 L257.7 162.3 L253.7 166.0 L250.7 163.0 L250.3 160.3 L253.3 159.3 L253.7 157.7 L249.8 155.6 L249.1 153.0 L251.1 146.2 L250.4 138.9 L245.1 130.1 L246.4 122.8Z M261.2 132.8 L265.9 132.1 L275.3 134.2 L283.3 137.5 L288.0 136.2 L294.1 131.5 L295.4 134.8 L297.8 141.5 L297.8 148.9 L291.4 150.3 L284.7 153.0 L275.3 152.3 L268.6 155.6 L265.9 155.0 L261.2 153.6 L261.2 151.6 L265.2 147.6 L266.5 142.2 L263.9 136.2Z M261.2 153.6 L265.9 155.0 L268.6 155.6 L275.3 152.3 L284.7 153.0 L291.4 150.3 L297.8 148.9 L302.1 153.0 L307.5 157.7 L307.6 159.2 L309.8 169.3 L307.1 172.6 L307.1 176.0 L302.1 175.0 L298.1 173.1 L296.7 168.4 L292.7 167.0 L288.7 169.7 L286.0 169.1 L285.3 165.0 L282.0 163.7 L275.3 165.0 L271.2 165.7 L267.2 164.4 L268.6 162.3 L267.9 157.0Z M261.3 164.3 L267.2 164.4 L271.2 165.7 L275.3 165.0 L282.0 163.7 L285.3 165.0 L286.0 169.1 L278.4 186.8 L277.5 191.0 L264.1 191.4 L256.2 188.0 L260.0 182.5 L262.0 172.5Z M286.0 169.1 L288.7 169.7 L292.7 167.0 L296.7 168.4 L298.1 173.1 L302.1 175.0 L307.1 176.0 L307.6 179.3 L306.0 188.5 L303.4 195.2 L291.7 197.7 L284.2 196.1 L277.5 191.0 L278.4 186.8Z M307.6 159.2 L320.2 155.9 L323.8 150.4 L325.8 151.2 L325.8 155.8 L326.7 160.0 L330.0 164.2 L330.8 167.1 L332.9 168.3 L334.6 170.0 L335.8 174.2 L333.5 180.1 L326.0 182.6 L324.8 184.8 L316.0 184.3 L311.8 181.0 L307.6 179.3 L307.1 176.0 L307.1 172.6 L309.8 169.3Z M294.1 131.5 L300.8 130.1 L304.8 132.1 L308.8 132.8 L311.5 137.5 L313.7 137.8 L322.5 132.0 L328.8 133.0 L330.0 141.2 L326.7 145.4 L322.9 145.8 L323.8 150.4 L320.2 155.9 L307.6 159.2 L307.5 157.7 L302.1 153.0 L297.8 148.9 L297.8 141.5 L295.4 134.8Z M322.8 109.3 L328.8 117.3 L330.1 122.0 L328.8 133.0 L322.5 132.0 L313.7 137.8 L311.5 137.5 L308.8 132.8 L304.8 132.1 L300.8 130.1 L294.1 131.5 L291.1 130.1 L292.7 125.4 L296.1 121.4 L304.8 117.4 L315.0 114.7 L318.8 112.5Z M326.8 98.6 L326.8 81.1 L330.1 77.8 L339.5 75.7 L341.5 82.4 L344.9 83.8 L345.6 86.5 L346.9 88.5 L354.3 89.8 L356.3 89.2 L355.6 91.8 L360.3 97.2 L361.0 101.9 L363.0 105.3 L362.3 110.4 L355.6 110.0 L349.6 107.3 L346.2 103.9 L339.5 104.6 L332.1 98.8Z M339.5 75.7 L349.6 72.8 L351.9 81.8 L355.6 85.8 L361.0 84.5 L363.7 85.1 L365.7 87.8 L367.0 93.2 L374.4 95.2 L375.8 99.9 L383.2 99.6 L387.9 103.3 L388.5 112.7 L383.2 112.0 L375.8 110.0 L365.0 111.7 L362.3 110.4 L363.0 105.3 L361.0 101.9 L360.3 97.2 L355.6 91.8 L356.3 89.2 L354.3 89.8 L346.9 88.5 L345.6 86.5 L344.9 83.8 L341.5 82.4Z M326.8 98.6 L332.1 98.8 L339.5 104.6 L346.2 103.9 L349.6 107.3 L355.6 110.0 L362.3 110.4 L363.0 117.3 L362.3 122.7 L353.0 127.4 L342.2 123.4 L330.1 122.0 L328.8 117.3 L322.8 109.3 L325.4 103.9Z M330.1 122.0 L342.2 123.4 L353.0 127.4 L362.3 122.7 L362.5 135.0 L360.0 140.0 L361.5 145.6 L349.6 145.4 L343.3 143.3 L337.5 141.7 L332.9 142.5 L330.0 141.2 L328.8 133.0Z M362.3 110.4 L365.0 111.7 L375.8 110.0 L383.2 112.0 L388.5 112.7 L388.7 120.5 L386.0 127.2 L384.0 134.6 L376.2 137.5 L377.0 142.7 L374.3 148.0 L370.9 154.5 L364.2 149.4 L361.5 145.6 L360.0 140.0 L362.5 135.0 L362.3 122.7 L363.0 117.3Z M388.5 112.7 L395.4 113.8 L398.8 109.8 L401.2 105.7 L404.8 106.4 L403.9 119.2 L409.5 121.2 L414.2 123.5 L416.2 127.2 L413.6 128.3 L409.8 127.2 L409.3 135.3 L407.5 139.3 L397.4 137.7 L389.4 133.9 L384.0 134.6 L386.0 127.2 L388.7 120.5Z M384.0 134.6 L389.4 133.9 L397.4 137.7 L407.5 139.3 L408.0 160.0 L404.0 161.0 L403.5 165.0 L400.5 166.0 L396.5 165.0 L393.1 162.8 L391.3 159.5 L386.4 160.0 L381.0 165.2 L376.3 165.5 L373.0 162.8 L369.6 157.4 L370.9 154.5 L374.3 148.0 L377.0 142.7 L376.2 137.5Z M330.0 141.2 L332.9 142.5 L337.5 141.7 L343.3 143.3 L349.6 145.4 L349.6 149.2 L347.9 150.4 L345.0 150.0 L342.9 150.4 L340.4 152.5 L339.2 150.4 L335.8 148.3 L331.7 146.2 L326.7 145.4Z M322.9 145.8 L326.7 145.4 L331.7 146.2 L335.8 148.3 L339.2 150.4 L340.4 152.5 L339.6 155.4 L340.8 157.1 L339.2 159.2 L336.7 161.7 L335.0 165.8 L332.9 168.3 L330.8 167.1 L330.0 164.2 L326.7 160.0 L325.8 155.8 L325.8 151.2 L323.8 150.4Z M339.2 159.2 L340.8 157.1 L343.3 158.3 L348.3 159.6 L349.6 160.0 L348.3 165.8 L347.1 171.7 L346.1 173.5 L340.2 173.4 L335.8 174.2 L334.6 170.0 L332.9 168.3 L335.0 165.8 L336.7 161.7Z M342.5 155.4 L342.5 155.4 L345.4 154.6 L345.4 152.9 L347.5 154.2 L349.2 154.6 L350.4 152.9 L350.8 155.8 L349.6 160.0 L348.3 159.6 L343.3 158.3 L340.8 157.1Z M340.4 152.5 L342.9 150.4 L342.9 150.4 L342.9 152.9 L341.7 153.8 L342.5 155.4 L340.8 157.1 L339.6 155.4Z M342.9 152.9 L342.9 150.4 L345.4 152.9 L345.4 154.6 L342.5 155.4 L342.5 155.4 L341.7 153.8Z M342.9 150.4 L345.0 150.0 L347.9 150.4 L349.6 149.2 L350.4 150.4 L350.4 152.9 L349.2 154.6 L347.5 154.2 L345.4 152.9 L342.9 150.4Z M349.6 145.4 L361.5 145.6 L364.2 149.4 L370.9 154.5 L369.6 157.4 L373.0 162.8 L368.9 170.9 L364.2 172.2 L356.8 179.6 L346.8 180.0 L346.1 173.5 L347.1 171.7 L348.3 165.8 L349.6 160.0 L350.8 155.8 L350.4 152.9 L350.4 150.4 L349.6 149.2Z M324.8 184.8 L326.0 182.6 L333.5 180.1 L335.8 174.2 L340.2 173.4 L346.1 173.5 L346.8 180.0 L356.8 179.6 L362.2 186.3 L359.5 191.0 L359.3 201.1 L352.1 203.1 L350.1 201.7 L343.4 199.1 L339.4 197.7 L329.0 197.5 L327.0 193.5 L324.6 190.1Z M307.6 179.3 L311.8 181.0 L316.0 184.3 L324.8 184.8 L324.6 190.1 L327.0 193.5 L329.0 197.5 L339.4 197.7 L339.1 202.2 L341.1 204.9 L339.1 206.9 L339.1 210.9 L330.3 213.0 L325.0 210.9 L319.2 213.6 L314.2 208.9 L312.2 198.9 L307.5 196.2 L303.4 195.2 L306.0 188.5Z M413.6 128.3 L416.2 127.2 L418.3 128.6 L418.9 131.9 L423.6 131.5 L426.3 135.3 L427.7 142.0 L427.4 147.4 L426.4 162.2 L429.7 166.0 L419.0 169.0 L408.0 160.0 L407.5 139.3 L409.3 135.3 L409.8 127.2Z M418.3 128.6 L426.3 127.2 L429.0 130.2 L429.9 136.6 L432.8 146.1 L439.5 151.5 L440.1 154.8 L458.9 162.9 L453.6 168.3 L441.5 168.9 L432.1 170.9 L429.7 166.0 L426.4 162.2 L427.4 147.4 L427.7 142.0 L426.3 135.3 L423.6 131.5 L418.9 131.9Z M429.0 130.2 L433.7 129.2 L439.1 129.6 L444.8 132.0 L450.2 140.1 L452.2 138.7 L455.6 139.1 L456.9 141.4 L462.3 140.7 L465.6 138.7 L470.3 143.2 L469.0 146.8 L465.6 148.1 L456.2 144.5 L454.9 150.1 L462.3 154.8 L461.6 162.2 L458.9 162.9 L440.1 154.8 L439.5 151.5 L432.8 146.1 L429.9 136.6Z M470.3 143.2 L476.4 143.4 L484.4 146.1 L480.4 154.8 L475.7 161.5 L474.4 171.6 L471.7 177.7 L462.3 171.6 L459.6 167.6 L458.9 162.9 L461.6 162.2 L462.3 154.8 L454.9 150.1 L456.2 144.5 L465.6 148.1 L469.0 146.8Z M462.3 171.6 L471.7 177.7 L471.3 192.0 L472.7 197.3 L467.7 202.7 L463.0 202.7 L461.0 200.0 L458.3 196.7 L459.7 192.7 L453.7 190.0Z M419.0 169.0 L429.7 166.0 L432.1 170.9 L441.5 168.9 L453.6 168.3 L458.9 162.9 L459.6 167.6 L462.3 171.6 L453.7 190.0 L447.5 185.0 L437.4 185.7 L434.8 183.0 L430.5 186.5 L426.0 180.0 L425.5 175.5 L419.5 171.5Z M453.7 190.0 L452.0 192.0 L452.3 196.0 L453.3 198.7 L456.0 199.3 L457.3 202.3 L461.0 200.0 L458.3 196.7 L459.7 192.7Z M408.0 160.0 L404.0 161.0 L403.5 165.0 L400.5 166.0 L401.0 168.5 L403.5 171.5 L404.0 179.5 L401.5 183.5 L403.5 189.0 L404.8 190.0 L406.8 193.4 L414.9 198.7 L418.3 196.7 L426.5 194.0 L425.5 190.0 L430.5 186.5 L426.0 180.0 L425.5 175.5 L419.5 171.5 L419.0 169.0Z M430.5 186.5 L434.8 183.0 L437.4 185.7 L447.5 185.0 L453.7 190.0 L452.0 192.0 L452.3 196.0 L453.3 198.7 L443.1 202.1 L433.7 207.4 L426.3 210.8 L422.3 210.1 L418.9 202.8 L418.3 196.7 L426.5 194.0 L425.5 190.0Z M426.3 210.8 L433.7 207.4 L443.1 202.1 L453.3 198.7 L456.0 199.3 L457.3 202.3 L459.7 205.3 L459.0 209.0 L452.5 216.8 L446.4 221.5 L445.8 226.9 L438.4 236.3 L435.7 235.0 L438.4 227.6 L433.7 223.6 L429.0 218.2 L430.3 214.8Z M368.9 170.9 L373.0 162.8 L376.3 165.5 L381.0 165.2 L386.4 160.0 L391.3 159.5 L393.1 162.8 L396.5 165.0 L400.5 166.0 L401.0 168.5 L403.5 171.5 L404.0 179.5 L401.5 183.5 L392.0 187.0 L381.7 187.2 L377.0 181.6 L373.0 173.6Z M356.8 179.6 L364.2 172.2 L368.9 170.9 L373.0 173.6 L377.0 181.6 L381.7 187.2 L392.0 187.0 L393.0 193.0 L392.8 195.4 L386.7 210.1 L380.0 207.4 L377.5 205.0 L370.3 203.1 L359.3 201.1 L359.5 191.0 L362.2 186.3Z M392.0 187.0 L401.5 183.5 L403.5 189.0 L404.8 190.0 L406.8 193.4 L414.9 198.7 L418.3 196.7 L418.9 202.8 L422.3 210.1 L420.3 214.8 L416.0 221.5 L402.1 223.3 L389.4 215.5 L386.7 210.1 L392.8 195.4 L393.0 193.0Z M359.3 201.1 L370.3 203.1 L377.5 205.0 L380.0 207.4 L386.7 210.1 L389.4 215.5 L386.0 220.2 L385.8 229.7 L382.5 231.4 L375.8 230.4 L370.4 231.0 L364.4 232.4 L361.7 228.4 L362.5 220.0 L357.5 207.5Z M339.4 197.7 L343.4 199.1 L350.1 201.7 L352.1 203.1 L359.3 201.1 L357.5 207.5 L362.5 220.0 L361.7 228.4 L356.3 230.4 L350.9 233.1 L349.6 237.8 L344.2 238.4 L342.2 241.8 L339.8 242.2 L338.2 233.1 L338.4 225.0 L337.0 218.0 L331.0 217.0 L330.3 213.0 L339.1 210.9 L339.1 206.9 L341.1 204.9 L339.1 202.2Z M319.2 213.6 L325.0 210.9 L330.3 213.0 L331.0 217.0 L337.0 218.0 L338.4 225.0 L338.2 233.1 L339.8 242.2 L328.8 241.4 L319.4 244.5 L314.5 243.8 L307.1 231.0 L311.5 220.3 L316.2 220.3Z M291.7 197.7 L303.4 195.2 L307.5 196.2 L312.2 198.9 L314.2 208.9 L319.2 213.6 L316.2 220.3 L311.5 220.3 L307.1 231.0 L302.5 221.2 L293.8 223.0 L286.2 215.0Z M256.2 188.0 L264.1 191.4 L277.5 191.0 L284.2 196.1 L291.7 197.7 L286.2 215.0 L283.2 215.2 L271.7 216.9 L269.1 218.9 L263.7 219.6 L258.3 216.9 L255.6 214.9 L257.0 211.5 L255.0 210.2 L254.3 207.5 L263.7 204.8 L263.0 201.5 L257.7 200.1 L257.7 198.1 L261.7 195.4Z M225.7 200.3 L229.3 198.7 L234.7 197.7 L235.3 194.0 L243.7 191.3 L250.3 188.0 L255.0 189.0 L256.2 188.0 L261.7 195.4 L257.7 198.1 L257.7 200.1 L263.0 201.5 L263.7 204.8 L254.3 207.5 L255.0 210.2 L257.0 211.5 L255.6 214.9 L258.3 216.9 L253.0 216.2 L250.3 218.9 L248.9 216.9 L246.2 216.5 L246.2 221.6 L240.9 219.6 L234.8 217.6 L230.8 212.2 L228.8 207.5 L222.7 205.0 L223.0 202.0Z M234.8 217.6 L240.9 219.6 L246.2 221.6 L246.2 216.5 L248.9 216.9 L250.3 218.9 L253.0 216.2 L258.3 216.9 L263.7 219.6 L267.7 225.6 L268.9 233.1 L270.2 243.1 L265.5 244.5 L261.5 242.2 L256.1 243.1 L252.8 245.8 L246.7 240.4 L240.0 235.7 L237.5 228.3 L232.1 223.0Z M263.7 219.6 L269.1 218.9 L271.7 216.9 L283.2 215.2 L284.3 225.0 L285.0 245.1 L287.7 245.8 L288.3 252.5 L283.6 253.5 L281.6 257.2 L280.3 255.2 L273.6 251.2 L268.2 247.8 L265.5 244.5 L270.2 243.1 L268.9 233.1 L267.7 225.6Z M283.2 215.2 L286.2 215.0 L293.8 223.0 L302.5 221.2 L307.1 231.0 L314.5 243.8 L305.8 248.5 L305.1 252.5 L297.7 252.5 L291.7 254.5 L288.3 252.5 L287.7 245.8 L285.0 245.1 L284.3 225.0Z M252.8 245.8 L256.1 243.1 L261.5 242.2 L265.5 244.5 L268.2 247.8 L273.6 251.2 L280.3 255.2 L281.6 257.2 L280.3 263.3 L272.9 264.2 L272.9 268.0 L276.2 274.7 L276.9 280.7 L283.0 285.4 L283.0 288.1 L276.2 287.4 L273.6 286.1 L272.2 282.0 L268.2 279.4 L263.9 279.8 L262.8 274.0 L258.1 269.3 L252.8 265.3 L252.1 261.2 L257.4 255.9 L256.8 251.8 L254.1 249.8Z M281.6 257.2 L283.6 253.5 L288.3 252.5 L291.7 254.5 L297.7 252.5 L305.1 252.5 L307.8 257.2 L301.1 267.3 L290.3 278.7 L288.3 283.4 L283.0 285.4 L276.9 280.7 L276.2 274.7 L272.9 268.0 L272.9 264.2 L280.3 263.3Z M305.1 252.5 L305.8 248.5 L314.5 243.8 L319.4 244.5 L320.1 250.5 L323.4 259.2 L332.1 268.0 L316.5 276.7 L303.1 270.6 L301.1 267.3 L307.8 257.2Z M319.4 244.5 L328.8 241.4 L339.8 242.2 L342.2 241.8 L346.9 247.8 L349.6 252.5 L348.9 259.2 L345.6 263.9 L346.9 267.3 L341.5 268.6 L336.8 267.3 L332.1 268.0 L323.4 259.2 L320.1 250.5Z M342.2 241.8 L344.2 238.4 L349.6 237.8 L350.9 233.1 L356.3 230.4 L361.7 228.4 L364.4 232.4 L370.4 231.0 L375.8 230.4 L378.5 238.4 L385.2 239.8 L384.5 245.1 L382.5 248.5 L379.1 249.2 L381.1 256.5 L378.5 258.6 L358.3 253.2 L357.7 248.5 L352.3 249.8 L349.6 252.5 L346.9 247.8Z M349.6 252.5 L352.3 249.8 L357.7 248.5 L358.3 253.2 L378.5 258.6 L383.8 274.7 L382.5 280.3 L379.8 279.8 L370.4 278.7 L362.3 280.7 L361.7 283.4 L357.0 280.7 L351.6 278.0 L347.6 277.3 L346.9 267.3 L345.6 263.9 L348.9 259.2Z M382.5 248.5 L393.4 249.7 L393.8 260.0 L395.0 270.6 L405.1 276.6 L405.1 281.3 L397.5 286.2 L387.5 280.0 L382.5 280.3 L383.8 274.7 L378.5 258.6 L381.1 256.5 L379.1 249.2Z M393.4 249.7 L396.1 245.7 L402.8 246.4 L404.8 251.1 L405.1 257.8 L409.1 262.9 L413.8 265.2 L411.1 269.2 L405.1 276.6 L395.0 270.6 L393.8 260.0Z M389.4 215.5 L402.1 223.3 L416.0 221.5 L416.9 223.6 L420.3 224.2 L421.6 226.2 L418.3 228.3 L419.6 236.3 L418.5 239.7 L408.9 239.0 L404.8 251.1 L402.8 246.4 L396.1 245.7 L393.4 249.7 L382.5 248.5 L384.5 245.1 L385.2 239.8 L378.5 238.4 L375.8 230.4 L382.5 231.4 L385.8 229.7 L386.0 220.2Z M422.3 210.1 L426.3 210.8 L430.3 214.8 L429.0 218.2 L433.7 223.6 L438.4 227.6 L435.7 235.0 L438.4 236.3 L438.6 237.7 L437.3 241.0 L431.9 246.4 L427.2 245.1 L421.8 246.4 L418.5 239.7 L419.6 236.3 L418.3 228.3 L421.6 226.2 L420.3 224.2 L416.9 223.6 L416.0 221.5 L420.3 214.8Z M404.8 251.1 L408.9 239.0 L418.5 239.7 L421.8 246.4 L427.2 245.1 L431.9 246.4 L437.3 241.0 L438.6 237.7 L439.0 242.4 L438.2 245.7 L435.3 249.5 L431.2 251.8 L431.0 255.1 L431.9 258.9 L428.3 270.2 L419.8 261.2 L413.8 265.2 L409.1 262.9 L405.1 257.8Z M435.3 249.5 L440.0 247.8 L442.7 241.7 L448.7 240.6 L455.4 240.6 L457.4 245.1 L457.4 249.8 L462.1 255.8 L460.8 260.5 L456.1 263.9 L452.7 264.3 L450.0 259.8 L446.7 259.8 L444.0 266.5 L441.3 267.2 L436.6 264.5 L433.3 261.2 L431.9 258.9 L431.0 255.1 L431.2 251.8Z M431.9 258.9 L433.3 261.2 L436.6 264.5 L441.3 267.2 L444.0 266.5 L446.7 259.8 L450.0 259.8 L452.7 264.3 L456.1 263.9 L461.4 271.2 L466.8 275.9 L465.5 281.3 L459.4 286.7 L454.1 288.7 L449.4 290.0 L445.3 288.0 L441.3 285.3 L440.6 278.0 L435.3 274.2 L433.9 278.0 L430.6 276.6 L428.3 270.2Z M413.8 265.2 L419.8 261.2 L428.3 270.2 L430.6 276.6 L433.9 278.0 L435.3 274.2 L440.6 278.0 L441.3 285.3 L445.3 288.0 L442.7 290.7 L446.2 296.0 L443.6 297.4 L432.1 303.4 L424.1 300.1 L423.2 290.7 L416.5 288.7 L415.8 283.3 L411.1 281.3 L405.1 281.3 L405.1 276.6 L411.1 269.2Z M361.7 283.4 L362.3 280.7 L370.4 278.7 L379.8 279.8 L382.5 280.3 L387.5 280.0 L397.5 286.2 L396.0 290.4 L391.3 295.7 L381.9 302.4 L377.9 299.1 L372.5 300.4 L370.5 295.1 L365.1 285.0Z M397.5 286.2 L405.1 281.3 L406.7 285.0 L407.4 297.1 L404.7 307.8 L403.0 319.5 L391.3 319.9 L385.9 313.9 L385.3 311.8 L381.9 302.4 L391.3 295.7 L396.0 290.4Z M406.7 285.0 L405.1 281.3 L411.1 281.3 L415.8 283.3 L416.5 288.7 L423.2 290.7 L424.1 300.1 L432.1 303.4 L427.4 308.1 L427.4 312.1 L423.4 312.8 L424.1 316.2 L430.1 321.5 L425.4 324.6 L414.1 319.2 L413.7 316.1 L410.8 314.8 L408.1 317.9 L403.0 319.5 L404.7 307.8 L407.4 297.1Z M445.3 288.0 L449.4 290.0 L454.1 288.7 L456.3 290.0 L457.0 295.4 L463.0 298.1 L463.0 302.8 L458.3 307.4 L455.0 311.5 L450.3 311.2 L447.6 310.1 L444.2 314.2 L442.2 311.5 L438.9 312.1 L434.8 318.2 L430.1 321.5 L424.1 316.2 L423.4 312.8 L427.4 312.1 L427.4 308.1 L432.1 303.4 L443.6 297.4 L446.2 296.0 L442.7 290.7Z M463.0 302.8 L462.3 314.2 L456.3 322.2 L461.7 330.3 L455.6 335.0 L447.6 336.3 L442.2 339.0 L434.8 338.3 L432.1 339.0 L426.1 334.3 L428.1 330.3 L425.4 324.6 L430.1 321.5 L434.8 318.2 L438.9 312.1 L442.2 311.5 L444.2 314.2 L447.6 310.1 L450.3 311.2 L455.0 311.5 L458.3 307.4Z M462.3 314.2 L467.7 318.9 L475.8 322.2 L481.8 320.2 L483.6 323.6 L479.8 330.3 L474.4 336.3 L464.4 346.4 L461.7 341.7 L455.6 335.0 L461.7 330.3 L456.3 322.2Z M432.1 339.0 L434.8 338.3 L442.2 339.0 L447.6 336.3 L455.6 335.0 L461.7 341.7 L464.4 346.4 L457.5 352.5 L455.0 357.5 L443.8 362.0 L435.0 361.2 L430.5 358.8 L432.8 347.7 L430.8 343.7Z M406.7 335.3 L413.5 338.0 L425.0 340.7 L429.5 341.7 L432.1 339.0 L430.8 343.7 L432.8 347.7 L430.5 358.8 L423.8 357.5 L417.5 352.5 L408.8 351.2 L407.5 353.0 L401.2 352.5 L392.7 348.8 L397.3 342.7Z M403.0 319.5 L408.1 317.9 L410.8 314.8 L413.7 316.1 L414.1 319.2 L425.4 324.6 L428.1 330.3 L426.1 334.3 L432.1 339.0 L429.5 341.7 L425.0 340.7 L413.5 338.0 L406.7 335.3 L408.1 332.7Z M385.9 313.9 L391.3 319.9 L403.0 319.5 L408.1 332.7 L406.7 335.3 L397.3 342.7 L392.7 348.8 L390.6 348.1 L388.6 347.4 L390.6 344.1 L390.0 340.0 L385.3 335.3 L380.6 332.0 L375.2 334.7 L370.5 331.3 L368.5 325.9 L369.2 322.9 L373.9 325.3 L381.9 324.2 L384.6 319.9 L383.3 316.5Z M370.5 295.1 L372.5 300.4 L377.9 299.1 L381.9 302.4 L385.3 311.8 L385.9 313.9 L383.3 316.5 L384.6 319.9 L381.9 324.2 L373.9 325.3 L369.2 322.9 L364.5 319.9 L363.1 311.8 L360.4 306.5 L362.4 297.3Z M335.7 294.4 L339.1 287.7 L342.9 280.0 L347.6 277.3 L351.6 278.0 L357.0 280.7 L361.7 283.4 L365.1 285.0 L370.5 295.1 L362.4 297.3 L360.4 306.5 L356.5 297.3 L351.1 297.8 L347.1 305.1 L339.1 306.5Z M339.1 306.5 L347.1 305.1 L351.1 297.8 L356.5 297.3 L360.4 306.5 L363.1 311.8 L364.5 319.9 L369.2 322.9 L368.5 325.9 L370.5 331.3 L358.4 340.0 L353.2 340.0 L349.8 336.0 L346.4 328.6 L339.1 323.9 L333.7 324.2 L330.3 317.2 L331.0 311.2Z M370.5 331.3 L375.2 334.7 L380.6 332.0 L385.3 335.3 L390.0 340.0 L390.6 344.1 L388.6 347.4 L382.5 350.0 L372.5 357.5 L366.5 358.5 L356.4 354.5 L354.4 356.5 L349.7 354.5 L349.1 351.4 L351.7 348.4 L351.1 345.1 L358.4 340.0Z M334.3 350.8 L341.0 350.0 L349.1 351.4 L349.7 354.5 L354.4 356.5 L356.4 354.5 L366.5 358.5 L363.2 363.9 L361.1 372.3 L357.1 369.6 L353.8 371.9 L343.0 371.2 L341.7 376.6 L337.0 378.6 L335.6 375.5 L330.3 375.3 L330.3 371.5 L332.7 371.2 L332.3 361.2 L326.2 358.5 L325.2 355.8 L328.9 351.8Z M337.0 378.6 L341.7 376.6 L343.0 371.2 L353.8 371.9 L357.1 369.6 L361.1 372.3 L359.8 385.3 L351.7 388.7 L350.4 390.7 L343.7 390.0 L339.0 388.7 L333.0 389.4 L325.6 384.7Z M325.2 355.8 L326.2 358.5 L332.3 361.2 L332.7 371.2 L330.3 371.5 L330.3 375.3 L335.6 375.5 L337.0 378.6 L326.2 380.0 L315.5 377.7 L309.5 375.9 L302.1 371.9 L302.8 367.2 L306.1 363.9 L308.1 360.5 L315.5 358.5 L315.2 356.2 L316.8 355.4 L318.2 357.1Z M306.2 337.6 L313.6 336.7 L317.6 336.0 L321.3 332.7 L322.2 335.0 L326.2 343.7 L333.0 348.4 L334.3 350.8 L328.9 351.8 L325.2 355.8 L318.2 357.1 L316.8 355.4 L315.2 356.2 L315.5 358.5 L308.1 360.5 L306.1 363.9 L302.8 367.2 L302.1 371.9 L298.7 371.5 L298.1 375.9 L292.7 376.3 L292.0 370.6 L296.0 367.2 L292.7 359.8 L296.7 353.1 L300.1 351.4 L304.8 350.8 L306.8 353.1 L311.5 344.4 L307.4 339.0Z M321.3 332.7 L325.6 326.3 L333.7 324.2 L339.1 323.9 L346.4 328.6 L349.8 336.0 L353.2 340.0 L358.4 340.0 L351.1 345.1 L351.7 348.4 L349.1 351.4 L341.0 350.0 L334.3 350.8 L333.0 348.4 L326.2 343.7 L322.2 335.0Z M301.5 326.6 L310.2 316.5 L316.2 322.6 L330.3 317.2 L333.7 324.2 L325.6 326.3 L321.3 332.7 L317.6 336.0 L313.6 336.7 L306.2 337.6 L304.8 333.3 L301.2 330.6Z M320.0 293.3 L325.6 292.8 L328.3 296.0 L335.7 294.4 L339.1 306.5 L331.0 311.2 L330.3 317.2 L316.2 322.6 L310.2 316.5 L308.5 311.8 L310.2 308.5 L319.2 298.4Z M290.1 301.8 L291.4 305.1 L302.8 304.9 L304.2 307.1 L307.5 306.2 L310.2 308.5 L308.5 311.8 L310.2 316.5 L301.5 326.6 L296.8 326.3 L284.1 328.9 L285.4 324.8 L278.7 322.6 L278.0 320.4 L280.0 318.1 L282.0 309.4 L284.7 306.0 L285.4 303.5Z M249.2 310.1 L253.9 308.3 L257.2 309.7 L259.9 312.3 L265.3 312.3 L269.3 315.4 L271.3 318.1 L272.0 320.8 L274.7 320.4 L276.0 319.1 L278.0 320.4 L278.7 322.6 L285.4 324.8 L284.1 328.9 L275.3 331.5 L273.6 342.3 L251.8 345.0 L241.1 344.3 L244.5 333.6 L248.5 313.4Z M284.1 328.9 L296.8 326.3 L301.5 326.6 L301.2 330.6 L304.8 333.3 L306.2 337.6 L307.4 339.0 L311.5 344.4 L306.8 353.1 L304.8 350.8 L300.1 351.4 L296.7 353.1 L285.4 350.3 L282.0 345.6 L280.0 343.0 L278.0 344.0 L273.6 342.3 L275.3 331.5Z M241.1 344.3 L251.8 345.0 L273.6 342.3 L278.0 344.0 L280.0 350.3 L279.4 356.4 L272.7 365.0 L271.2 370.0 L266.2 371.2 L260.0 366.2 L253.9 365.0 L243.1 361.7 L240.4 359.1 L243.1 356.4 L241.8 353.7 L234.1 351.7 L234.4 348.1Z M278.0 344.0 L280.0 343.0 L282.0 345.6 L285.4 350.3 L296.7 353.1 L292.7 359.8 L296.0 367.2 L292.0 370.6 L292.7 376.3 L278.8 375.0 L271.2 370.0 L272.7 365.0 L279.4 356.4 L280.0 350.3Z M253.4 272.0 L255.4 271.0 L258.1 273.1 L262.1 278.7 L263.9 279.8 L268.2 279.4 L272.2 282.0 L273.6 286.1 L276.2 287.4 L283.0 288.1 L284.0 290.4 L282.0 294.4 L282.7 297.3 L286.0 298.4 L288.1 297.1 L290.7 297.8 L290.1 301.8 L285.4 303.5 L284.7 306.0 L282.0 309.4 L280.0 318.1 L278.0 320.4 L276.0 319.1 L274.7 320.4 L272.0 320.8 L271.3 318.1 L269.3 315.4 L265.3 312.3 L259.9 312.3 L257.2 309.7 L253.9 308.3 L249.2 310.1 L251.2 290.0Z M283.0 288.1 L283.0 285.4 L288.3 283.4 L290.3 278.7 L301.1 267.3 L303.1 270.6 L316.5 276.7 L316.7 280.0 L313.4 282.7 L314.2 285.0 L318.9 290.4 L320.0 293.3 L319.2 298.4 L310.2 308.5 L307.5 306.2 L304.2 307.1 L302.8 304.9 L291.4 305.1 L290.1 301.8 L290.7 297.8 L288.1 297.1 L286.0 298.4 L282.7 297.3 L282.0 294.4 L284.0 290.4Z M316.5 276.7 L332.1 268.0 L336.8 267.3 L341.5 268.6 L346.9 267.3 L347.6 277.3 L342.9 280.0 L339.1 287.7 L335.7 294.4 L328.3 296.0 L325.6 292.8 L320.0 293.3 L318.9 290.4 L314.2 285.0 L313.4 282.7 L316.7 280.0Z M529.3 358.7 L532.2 358.4 L533.5 361.7 L533.8 366.8 L533.5 370.9 L536.9 381.8 L537.7 390.2 L534.3 400.2 L530.2 401.9 L528.5 395.2 L517.6 385.2 L510.4 383.1 L513.4 376.0 L521.8 370.4 L527.7 368.4 L529.3 363.4Z M510.4 383.1 L517.6 385.2 L528.5 395.2 L530.2 401.9 L534.3 400.2 L533.8 410.2 L531.0 419.4 L526.8 418.6 L517.1 413.6 L517.6 411.1 L520.5 410.2 L520.1 406.9 L515.1 405.2 L514.3 398.5 L510.9 390.2Z"/>
<path d="M169.8 220.2 L170.8 217.1 L173.7 215.3 L176.2 216.2 L177.6 218.8 L180.2 217.1 L181.7 214.5 L180.2 211.8 L181.7 210.1 L184.6 209.8 L186.7 211.8 L186.7 215.2 L190.3 217.1 L193.5 219.1 L192.1 221.1 L187.5 222.4 L183.1 222.0 L180.2 220.5 L178.8 223.1 L179.9 228.2 L178.1 231.5 L175.2 232.9 L172.3 231.1 L171.3 226.7Z" fill="#08519c" stroke="#2a4f86" stroke-width="0.6"/>
<path d="M174.2 244.8 L176.6 243.1 L180.2 244.5 L183.8 247.7 L188.2 248.4 L188.9 249.9 L186.3 251.3 L188.2 254.2 L190.6 257.1 L191.1 260.7 L189.6 262.9 L186.7 261.4 L183.1 259.5 L180.2 260.7 L179.1 259.5 L181.7 256.6 L179.5 252.7 L175.6 248.4Z" fill="#08519c" stroke="#2a4f86" stroke-width="0.6"/>
<path d="M170.8 275.8 L175.2 270.8 L180.2 271.5 L186.0 273.7 L191.1 278.0 L195.4 280.2 L195.4 284.5 L192.5 289.6 L188.9 295.3 L186.0 299.7 L181.7 300.8 L175.9 300.4 L172.3 301.4 L170.4 299.7 L173.0 296.1 L174.5 291.0 L173.7 286.7 L170.8 281.6Z" fill="#08519c" stroke="#2a4f86" stroke-width="0.6"/>
<path d="M169.8 318.5 L172.3 314.1 L176.6 311.5 L183.1 312.0 L188.2 314.9 L191.1 319.9 L194.7 322.1 L194.4 325.7 L192.9 328.6 L191.1 332.2 L186.0 332.9 L180.2 331.8 L174.5 328.6 L170.8 324.2Z" fill="#08519c" stroke="#2a4f86" stroke-width="0.6"/>
</svg>
</body></html>
